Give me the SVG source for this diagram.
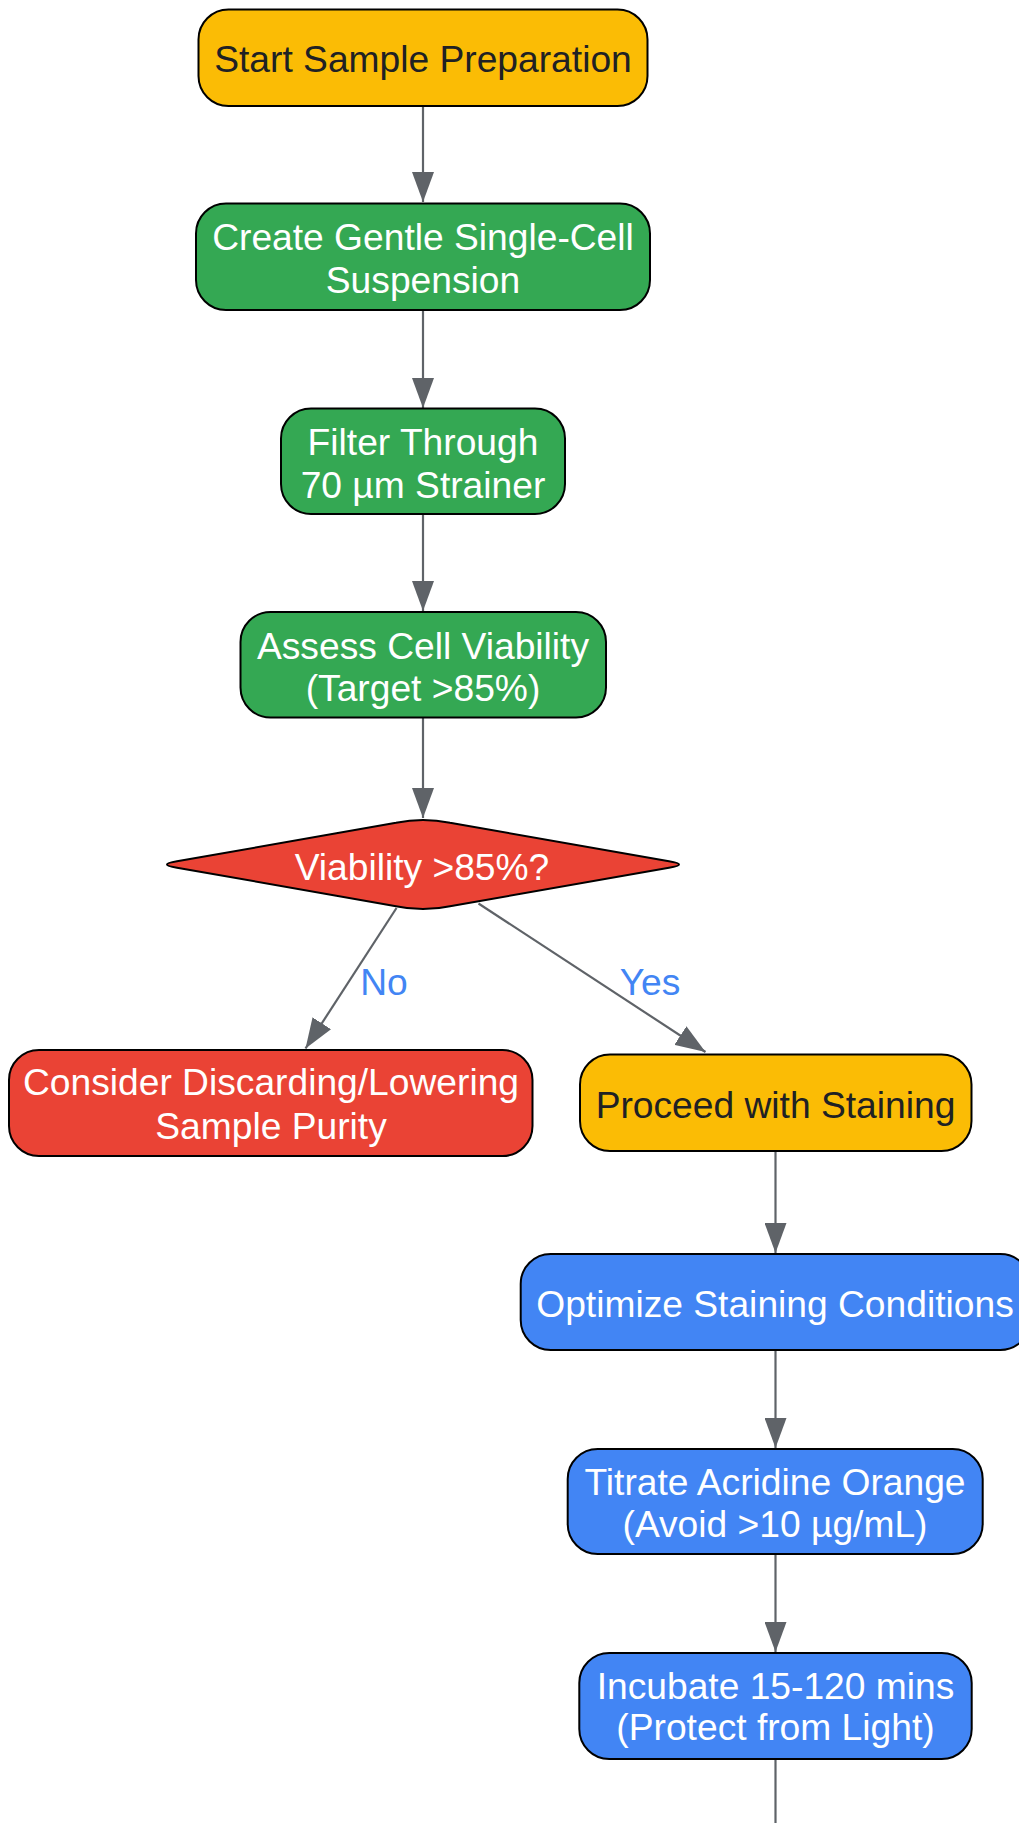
<svg xmlns="http://www.w3.org/2000/svg" width="1019" height="1823" viewBox="0 0 1019 1823">
<style>
.n{stroke:#000;stroke-width:2}
.y{fill:#FBBC05}.g{fill:#34A853}.r{fill:#EA4335}.b{fill:#4285F4}
text{font-family:"Liberation Sans",Arial,sans-serif;font-size:37.2px;text-anchor:middle}
.tw{fill:#fff}.td{fill:#202124}.tl{fill:#4285F4}
.e{stroke:#5f6368;stroke-width:2.2;fill:none;marker-end:url(#ah)}
</style>
<defs>
<marker id="ah" markerUnits="userSpaceOnUse" markerWidth="30" markerHeight="22" refX="30" refY="11" orient="auto">
<path d="M0,0 L30,11 L0,22 z" fill="#5f6368"/>
</marker>
</defs>
<rect width="1019" height="1823" fill="#fff"/>
<g id="connectors">
<line class="e" x1="423" y1="106" x2="423" y2="202"/>
<line class="e" x1="423" y1="310" x2="423" y2="408"/>
<line class="e" x1="423" y1="514" x2="423" y2="611"/>
<line class="e" x1="423" y1="718" x2="423" y2="818"/>
<line class="e" x1="396.5" y1="908" x2="305.5" y2="1048.5"/>
<line class="e" x1="478.5" y1="903.5" x2="705.5" y2="1052"/>
<line class="e" x1="775.5" y1="1151" x2="775.5" y2="1253"/>
<line class="e" x1="775.5" y1="1350" x2="775.5" y2="1448"/>
<line class="e" x1="775.5" y1="1554" x2="775.5" y2="1652"/>
<line class="e" x1="775.5" y1="1759" x2="775.5" y2="1860"/>
<text class="tl" x="384" y="995">No</text>
<text class="tl" x="650" y="995">Yes</text>
</g>
<g id="start">
<rect class="n y" x="198.5" y="9.5" width="449" height="96.5" rx="30"/>
<text class="td" x="423" y="72">Start Sample Preparation</text>
</g>
<g id="suspension">
<rect class="n g" x="196" y="203.5" width="454" height="106.5" rx="30"/>
<text class="tw" x="423" y="250">Create Gentle Single-Cell</text>
<text class="tw" x="423" y="292.5">Suspension</text>
</g>
<g id="filter">
<rect class="n g" x="281" y="408.5" width="284" height="105.5" rx="30"/>
<text class="tw" x="423" y="455">Filter Through</text>
<text class="tw" x="423" y="497.5">70 µm Strainer</text>
</g>
<g id="assess">
<rect class="n g" x="240.5" y="612" width="365.5" height="105.5" rx="30"/>
<text class="tw" x="423" y="658.5">Assess Cell Viability</text>
<text class="tw" x="423" y="701">(Target &gt;85%)</text>
</g>
<g id="decision">
<path class="n r" d="M396,822.8 Q423,817 450,822.8 L669,861.3 Q689,864.5 669,867.7 L450,906.2 Q423,912 396,906.2 L177,867.7 Q157,864.5 177,861.3 Z"/>
<text class="tw" x="422" y="880">Viability &gt;85%?</text>
</g>
<g id="discard">
<rect class="n r" x="9" y="1050" width="523.5" height="106" rx="30"/>
<text class="tw" x="271" y="1095">Consider Discarding/Lowering</text>
<text class="tw" x="271" y="1138.5">Sample Purity</text>
</g>
<g id="proceed">
<rect class="n y" x="580" y="1054.5" width="391.5" height="96.5" rx="30"/>
<text class="td" x="775.5" y="1117.5">Proceed with Staining</text>
</g>
<g id="optimize">
<rect class="n b" x="520.7" y="1254" width="509.6" height="96" rx="30"/>
<text class="tw" x="775" y="1316.5">Optimize Staining Conditions</text>
</g>
<g id="titrate">
<rect class="n b" x="567.7" y="1449" width="415" height="105" rx="30"/>
<text class="tw" x="775" y="1495">Titrate Acridine Orange</text>
<text class="tw" x="775" y="1537">(Avoid &gt;10 µg/mL)</text>
</g>
<g id="incubate">
<rect class="n b" x="579.3" y="1653" width="392.4" height="106" rx="30"/>
<text class="tw" x="775.5" y="1698.5">Incubate 15-120 mins</text>
<text class="tw" x="775.5" y="1740">(Protect from Light)</text>
</g>
</svg>
